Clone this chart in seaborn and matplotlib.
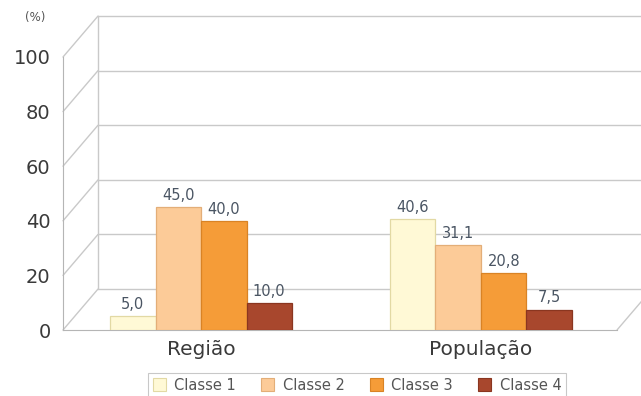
import matplotlib
matplotlib.use("Agg")
import matplotlib.pyplot as plt
import seaborn as sns
import pandas as pd
from matplotlib.patches import Patch

# Values per group (%)
areas = ["Região", "População"]
classes = ["Classe 1", "Classe 2", "Classe 3", "Classe 4"]
regiao = [5.0, 45.0, 40.0, 10.0]
populacao = [40.6, 31.1, 20.8, 7.5]
yticks = [0, 20, 40, 60, 80, 100]

fill_colors = ["#FFF9D6", "#FCCB98", "#F59C38", "#A8472D"]
edge_colors = ["#E2D9A4", "#E3AE78", "#D98325", "#8A3620"]

rows = []
for cls, r, p in zip(classes, regiao, populacao):
    rows.append({"area": areas[0], "classe": cls, "valor": r})
    rows.append({"area": areas[1], "classe": cls, "valor": p})
df = pd.DataFrame(rows)

sns.set_style("white")
plt.rcParams["font.family"] = ["DejaVu Sans"]

fig = plt.figure(figsize=(6.41, 3.96), dpi=100)
ax = fig.add_axes([63 / 641, 1 - 330 / 396, (617 - 63) / 641, (330 - 57) / 396])

sns.barplot(data=df, x="area", y="valor", hue="classe", order=areas,
            hue_order=classes, palette=fill_colors, width=0.65,
            linewidth=0.9, saturation=1, legend=False, ax=ax, zorder=3)

for cont, ec in zip(ax.containers, edge_colors):
    for bar in cont:
        bar.set_edgecolor(ec)
        bar.set_zorder(3)
    ax.bar_label(cont, labels=[f"{b.get_height():.1f}".replace(".", ",") for b in cont],
                 padding=3, fontsize=10.5, color="#4A5563", zorder=4)

x0, x1 = -0.493, 1.486
ax.set_xlim(x0, x1)
ax.set_ylim(0, 100)
ax.set_xlabel("")
ax.set_ylabel("")

# Back wall of the pseudo-3D frame, shifted up and to the right
dx, dy = 0.125, 15.0
wall = "#C9C9C9"
for v in yticks:
    ax.plot([x0 + dx, x1 + dx + 0.2], [v + dy, v + dy], color=wall, lw=1.0,
            clip_on=False, zorder=1)
    ax.plot([x0, x0 + dx], [v, v + dy], color=wall, lw=1.0, clip_on=False, zorder=1)
ax.plot([x0 + dx, x0 + dx], [dy, 100 + dy], color=wall, lw=1.0, clip_on=False, zorder=1)
ax.plot([x1, x1 + dx], [0, dy], color=wall, lw=1.0, clip_on=False, zorder=1)

for s in ["top", "right"]:
    ax.spines[s].set_visible(False)
ax.spines["left"].set_color("#B5B5B5")
ax.spines["bottom"].set_color("#B5B5B5")
ax.spines["left"].set_zorder(2)

ax.set_yticks(yticks)
ax.set_yticklabels([str(v) for v in yticks])
ax.tick_params(axis="y", direction="out", length=5, width=1, color="#B5B5B5",
               labelsize=14, labelcolor="#3A3A3A", pad=4)
ax.tick_params(axis="x", length=0, labelsize=14.5, labelcolor="#3A3A3A", pad=7)
ax.grid(False)

fig.text(35 / 641, 1 - 18 / 396, "(%)", fontsize=8.5, color="#555555",
         ha="center", va="center")

handles = [Patch(facecolor=fc, edgecolor=ec, lw=0.8) for fc, ec in zip(fill_colors, edge_colors)]
leg = fig.legend(handles, classes, loc="center", ncol=4,
                 bbox_to_anchor=(357 / 641, 1 - 385 / 396),
                 fontsize=10.5, frameon=True, fancybox=False, edgecolor="#BBBBBB",
                 handlelength=0.9, handleheight=0.9, handletextpad=0.6,
                 columnspacing=1.7, borderpad=0.3, borderaxespad=0.3)
for t in leg.get_texts():
    t.set_color("#555555")
leg.get_frame().set_linewidth(0.8)

fig.savefig("out.png", dpi=100)
